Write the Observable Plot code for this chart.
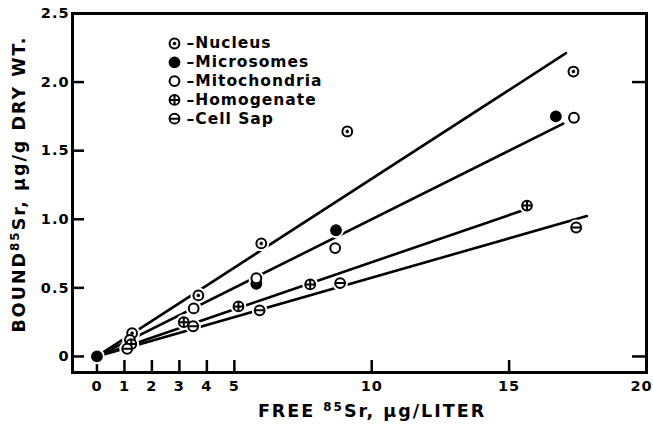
<!DOCTYPE html>
<html><head><meta charset="utf-8">
<script src="https://cdn.jsdelivr.net/npm/d3@7"></script>
<script src="https://cdn.jsdelivr.net/npm/@observablehq/plot@0.6"></script>
<style>
body{margin:0;background:#fff}
#wrap{position:relative;width:653px;height:435px;font-family:"DejaVu Sans",sans-serif;font-weight:bold;color:#000}
.title{position:absolute;white-space:nowrap;font-size:17.5px;letter-spacing:2px;line-height:1}
.title sup{font-size:0.68em;vertical-align:0.5em;line-height:0}
</style></head><body><div id="wrap"></div>
<script>
// ---- data ----
const series = ["Nucleus", "Microsomes", "Mitochondria", "Homogenate", "Cell Sap"];
const nucleusX = [1.28, 3.69, 5.98, 9.11, 17.34];
const nucleusY = [0.17, 0.445, 0.824, 1.64, 2.077];
const microsomesX = [0, 5.8, 8.7, 16.7];
const microsomesY = [0, 0.53, 0.92, 1.75];
const mitochondriaX = [1.2, 3.52, 5.8, 8.67, 17.36];
const mitochondriaY = [0.12, 0.35, 0.57, 0.79, 1.74];
const homogenateX = [1.25, 3.16, 5.15, 7.76, 15.65];
const homogenateY = [0.09, 0.25, 0.365, 0.525, 1.1];
const cellSapX = [1.1, 3.5, 5.92, 8.85, 17.44];
const cellSapY = [0.056, 0.22, 0.336, 0.535, 0.94];
// fitted lines through the origin: slope and where each is drawn to
const fitNames = ["Nucleus", "Microsomes + Mitochondria", "Homogenate", "Cell Sap"];
const fitSlope = [0.1295, 0.1, 0.0687, 0.0574];
const fitEndX = [17.07, 16.97, 15.46, 17.83];
// ticks
const xTicks = [0, 1, 2, 3, 4, 5, 10, 15, 20];
const yTicks = [0, 0.5, 1.0, 1.5, 2.0, 2.5];
const yRightTicks = [0, 2.0];

// ---- symbols ----
const ring = (ctx, r) => { ctx.moveTo(r, 0); ctx.arc(0, 0, r, 0, 2 * Math.PI); };
const symNucleus = {draw(ctx, size) { const r = Math.sqrt(size / Math.PI); ring(ctx, r); const q = r * 0.35;
  ctx.moveTo(-q, 0); ctx.lineTo(q, 0); ctx.moveTo(0, -q); ctx.lineTo(0, q); }};
const symPlain = {draw(ctx, size) { const r = Math.sqrt(size / Math.PI); ring(ctx, r); }};
const symHomog = {draw(ctx, size) { const r = Math.sqrt(size / Math.PI); ring(ctx, r);
  ctx.moveTo(-r, 0); ctx.lineTo(r, 0); ctx.moveTo(0, -r); ctx.lineTo(0, r); }};
const symSap = {draw(ctx, size) { const r = Math.sqrt(size / Math.PI); ring(ctx, r);
  ctx.moveTo(-r, 0); ctx.lineTo(r, 0); }};

const xs = [nucleusX, microsomesX, mitochondriaX, homogenateX, cellSapX];
const ys = [nucleusY, microsomesY, mitochondriaY, homogenateY, cellSapY];
const syms = [symNucleus, symPlain, symPlain, symHomog, symSap];
const fills = ["white", "black", "white", "white", "white"];

const pts = series.map((s, i) => xs[i].map((x, j) => ({series: s, x, y: ys[i][j]})));
const allPts = pts.flat();
const lineData = fitNames.flatMap((n, i) => [
  {n, x: 0, y: 0},
  {n, x: fitEndX[i], y: fitSlope[i] * fitEndX[i]}
]);

const W = 653, H = 435, mL = 72, mR = 7, mT = 13, mB = 63;
const fw = W - mL - mR, fh = H - mT - mB;
const R = 4.9;

const marks = [
  Plot.frame({stroke: "black", strokeWidth: 3}),
  Plot.tickY(yTicks, {y: d => d, stroke: "black", strokeWidth: 2.5, insetRight: fw - 12}),
  Plot.tickY(yRightTicks, {y: d => d, stroke: "black", strokeWidth: 2.5, insetLeft: fw - 14}),
  Plot.tickX(xTicks, {x: d => d, stroke: "black", strokeWidth: 2.5, insetTop: fh - 12}),
  Plot.axisY({ticks: yTicks, tickSize: 0, tickPadding: 3, label: null, fontSize: 14.5,
    tickFormat: d => d === 0 ? "0" : d.toFixed(1)}),
  Plot.axisX({ticks: xTicks.slice(0, -1), tickSize: 0, tickPadding: 8, label: null, fontSize: 14.5, tickFormat: d => String(d)}),
  Plot.axisX({ticks: xTicks.slice(-1), tickSize: 0, tickPadding: 8, label: null, fontSize: 14.5, dx: -5, tickFormat: d => String(d)}),
  Plot.line(lineData, {x: "x", y: "y", z: "n", stroke: "black", strokeWidth: 2.6}),
  Plot.dot(allPts, {x: "x", y: "y", r: R, fill: "white", stroke: "white", strokeWidth: 6})
];
series.forEach((s, i) => {
  marks.push(Plot.dot(pts[i], {x: "x", y: "y", r: R, symbol: syms[i], fill: fills[i], stroke: "black", strokeWidth: 2}));
});
// legend
series.forEach((s, i) => {
  const dy = 30 + 18.8 * i;
  marks.push(Plot.dot([s], {frameAnchor: "top-left", dx: 102, dy, r: R, symbol: syms[i], fill: fills[i], stroke: "black", strokeWidth: 2}));
  marks.push(Plot.text([s], {frameAnchor: "top-left", dx: 114, dy, text: d => "–" + d, textAnchor: "start", lineAnchor: "middle", fontSize: 15.5, fill: "black"}));
});

const chart = Plot.plot({
  width: W, height: H,
  marginLeft: mL, marginRight: mR, marginTop: mT, marginBottom: mB,
  x: {domain: [-0.89, 20]},
  y: {domain: [-0.117, 2.5]},
  style: {fontFamily: "DejaVu Sans", fontSize: "14px", fontWeight: "bold", letterSpacing: "1px", color: "black", background: "white"},
  marks
});
const wrap = document.getElementById("wrap");
wrap.appendChild(chart);

const xt = document.createElement("div");
xt.className = "title";
xt.innerHTML = "FREE <sup>85</sup>Sr, μg/LITER";
xt.style.left = "372px"; xt.style.top = "412px"; xt.style.transform = "translate(-50%,-50%)";
wrap.appendChild(xt);

const yt = document.createElement("div");
yt.className = "title";
yt.innerHTML = "BOUND<sup>85</sup>Sr, μg/g DRY WT.";
yt.style.left = "20px"; yt.style.top = "184px"; yt.style.transform = "translate(-50%,-50%) rotate(-90deg)";
wrap.appendChild(yt);
</script></body></html>
